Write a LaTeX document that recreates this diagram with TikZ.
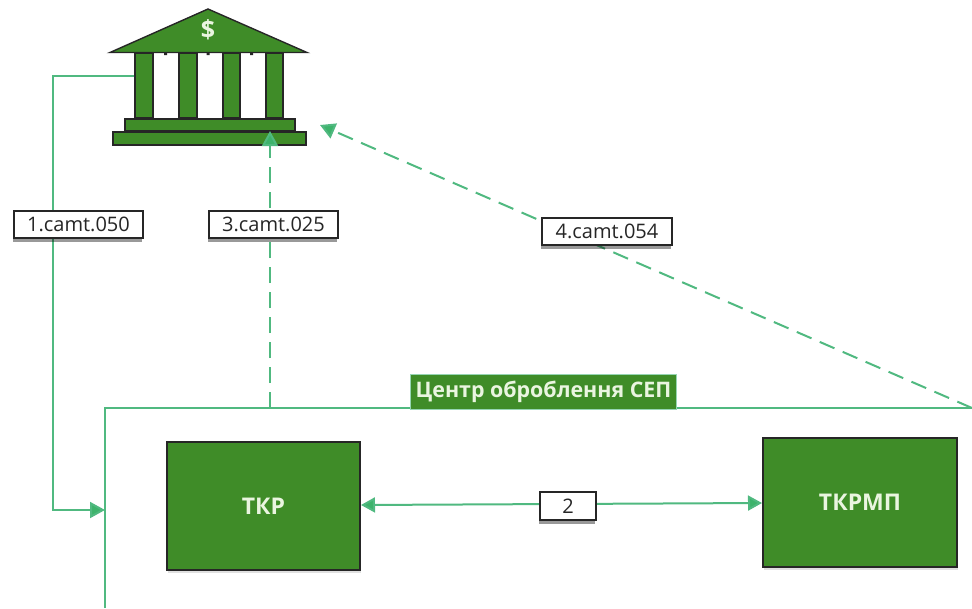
\documentclass[tikz,border=0pt]{standalone}
\usepackage{fontspec}
\setmainfont{Open Sans}
\newfontfamily\titlefont{Open Sans}
\usetikzlibrary{arrows.meta,shadows,backgrounds}
\definecolor{bankgreen}{HTML}{3F8C28}
\definecolor{linegreen}{HTML}{50B980}
\definecolor{arrowgreen}{HTML}{3DB36B}
\definecolor{paletext}{HTML}{EAF5E0}
\tikzset{
  x=1pt,y=-1pt,
  labelbox/.style={draw=black!85,line width=2pt,fill=white,inner sep=0pt,
    font=\fontsize{20}{22}\selectfont,text=black!85,
    drop shadow={shadow xshift=-1.5pt,shadow yshift=-3.5pt,fill=black,opacity=.4}},
  greenbox/.style={draw=black!85,line width=2pt,fill=bankgreen,inner sep=0pt,
    font=\titlefont\fontsize{23}{25}\selectfont\bfseries,text=paletext,
    drop shadow={shadow xshift=1pt,shadow yshift=-3pt,fill=black,opacity=.12}},
  bankpart/.style={draw=black!85,line width=2pt,fill=bankgreen,inner sep=0pt},
  titlebox/.style={fill=bankgreen,draw=linegreen!60,line width=1pt,inner sep=0pt,
    font=\titlefont\fontsize{21.4}{25}\selectfont\bfseries,text=paletext},
  conn/.style={draw=linegreen,line width=2pt},
  dashconn/.style={conn,dash pattern=on 16pt off 9pt},
  tip/.style={-{Triangle[length=15pt,width=16pt,fill=arrowgreen]}},
  bothtip/.style={{Triangle[length=14pt,width=15pt,fill=arrowgreen]}-{Triangle[length=14pt,width=15pt,fill=arrowgreen]}}
}
\newcommand{\boxat}[7]{\node[#1,minimum width=#4pt,minimum height=#5pt,anchor=north west] (#2) at (#6,#7) {#3};}
\begin{document}
\begin{tikzpicture}
\useasboundingbox (0,0) rectangle (972,608);
\clip (0,0) rectangle (972,608);
\begin{pgfonlayer}{background}
% bank
\fill[bankgreen,draw=black!85,line width=1.4pt,line join=miter] (110,52.5) -- (208,9) -- (307,52.5) -- cycle;
\fill[black!85] (164,52) rectangle (167,55) (206.5,52) rectangle (209.5,55) (250,52) rectangle (253,55);
\boxat{bankpart}{colA}{}{18}{65}{134}{52}
\boxat{bankpart}{colB}{}{18}{65}{178}{52}
\boxat{bankpart}{colC}{}{17}{65}{222}{52}
\boxat{bankpart}{colD}{}{17}{65}{265}{52}
\boxat{bankpart}{stepup}{}{170}{12}{124}{118}
\boxat{bankpart}{steplow}{}{193}{13}{112}{131}
\end{pgfonlayer}
\node[font=\titlefont\fontsize{25}{27}\selectfont\bfseries,text=paletext] (dollar) at (208,30) {\$};
% boxes
\boxat{greenbox}{tkr}{ТКР}{193}{128}{166}{441}
\boxat{greenbox}{tkrmp}{ТКРМП}{194}{129}{762}{437}
\boxat{titlebox}{title}{Центр оброблення СЕП}{266}{35}{410}{374}
\boxat{labelbox}{lA}{1.camt.050}{129}{27}{13}{210}
\boxat{labelbox}{lC}{3.camt.025}{129}{27}{208}{210}
\boxat{labelbox}{lD}{4.camt.054}{130}{27}{541}{217}
\boxat{labelbox}{lB}{2}{56}{28}{539}{491}
\coordinate (frameTL) at (105,408);
\coordinate (frameBL) at (105,608);
\coordinate (frameTR) at (972,408);
\coordinate (frameIn) at (105,510);
\coordinate (frameUp) at (270,408);
\coordinate (bankIn) at (270,131);
\coordinate (bankSide) at (320,125);
\coordinate (elbowTop) at (53,76);
\coordinate (elbowBot) at (53,510);
\begin{pgfonlayer}{background}
\draw[conn] (frameBL) -- (frameTL) -- (frameTR);
\draw[conn,tip] (colA.west |- elbowTop) -- (elbowTop) -- (elbowBot) -- (frameIn);
\draw[dashconn,tip] (frameUp) -- (bankIn);
\draw[dashconn,tip] (frameTR) -- (bankSide);
\draw[conn,bothtip] (tkr.east |- 0,505) -- (tkrmp.west |- 0,503);
\end{pgfonlayer}
\end{tikzpicture}
\end{document}
